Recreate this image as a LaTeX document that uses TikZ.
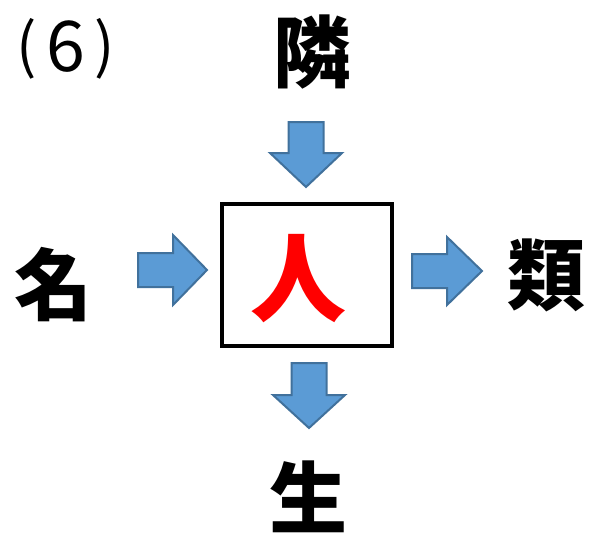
\documentclass[tikz,border=0pt]{standalone}
\usepackage{fontspec}
\newfontfamily\cjk{Noto Sans CJK JP}
\definecolor{arrfill}{HTML}{5B9BD5}
\definecolor{arredge}{HTML}{41719C}
\begin{document}
\begin{tikzpicture}[x=1pt,y=-1pt,
  kanji/.style={font=\cjk\bfseries\fontsize{78}{78}\selectfont, inner sep=0pt},
  label6/.style={font=\cjk\fontsize{70}{70}\selectfont, inner sep=0pt},
  paren/.style={font=\cjk\fontsize{60}{60}\selectfont, inner sep=0pt},
  blockarrow/.style={fill=arrfill, draw=arredge, line width=2pt, line join=miter}]
\useasboundingbox (0,0) rectangle (595,538);
% label (6)
\node[paren] (lp) at (27,49) {(};
\node[label6] (six) at (66,47) {6};
\node[paren] (rp) at (105,49) {)};
% outer characters
\node[kanji] (top) at (312,52) {隣};
\node[kanji] (left) at (54,285) {名};
\node[kanji] (right) at (546,275) {類};
\node[kanji] (bottom) at (308,497) {生};
% centre box
\node[draw, line width=3.5pt, minimum width=170pt, minimum height=142pt, inner sep=0pt] (box) at (307,275) {};
\node[kanji, text=red, font=\cjk\bfseries\fontsize{96}{96}\selectfont] (centre) at (298,279) {人};
% block arrows
\draw[blockarrow] (288.5,122) -- (323.5,122) -- (323.5,153) -- (342,153) -- (306,187) -- (270,153) -- (288.5,153) -- cycle;
\draw[blockarrow] (291.5,363) -- (326.5,363) -- (326.5,395) -- (345,395) -- (309,428) -- (273,395) -- (291.5,395) -- cycle;
\draw[blockarrow] (138,253) -- (173,253) -- (173,235) -- (207,270) -- (173,305) -- (173,287) -- (138,287) -- cycle;
\draw[blockarrow] (412,254) -- (447,254) -- (447,237) -- (482,271) -- (447,305) -- (447,288) -- (412,288) -- cycle;
\end{tikzpicture}
\end{document}
